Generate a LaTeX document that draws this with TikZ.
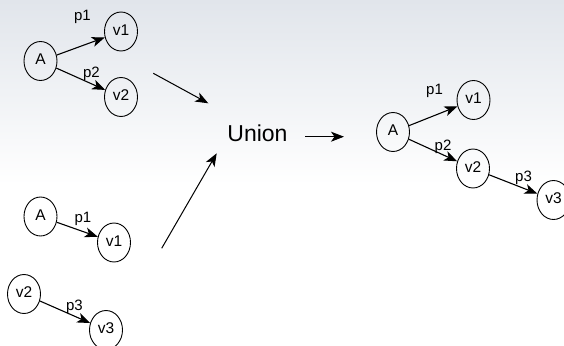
\documentclass[tikz,border=0pt]{standalone}
\usepackage{fontspec}
\setmainfont{Liberation Sans}
\usetikzlibrary{shapes.geometric,arrows.meta}

\definecolor{skytop}{RGB}{225,229,235}
\definecolor{skymid}{RGB}{238,242,247}

\tikzset{
  vertex/.style={ellipse, draw, line width=0.9pt, inner sep=0pt,
    minimum width=33pt, minimum height=39pt, text depth=3pt,
    font=\fontsize{15.5}{18}\selectfont},
  edge/.style={line width=1.1pt, -{Stealth[length=13pt,width=10pt,inset=3.5pt]}},
  elabel/.style={anchor=base, inner sep=0pt, font=\fontsize{15}{18}\selectfont},
  flow/.style={line width=1pt, -{Stealth[length=13pt,width=10pt,inset=3.5pt]}}
}

\begin{document}
\begin{tikzpicture}[x=1pt,y=-1pt]
  % soft backdrop fading to white
  \shade[top color=skytop, middle color=skymid, bottom color=white]
    (0,0) rectangle (564,185);
  \useasboundingbox (0,0) rectangle (564,345);

  % first input graph
  \node[vertex] (a1) at (40.5,61) {A};
  \node[vertex] (b1) at (121,31.5) {v1};
  \node[vertex] (c1) at (121,97) {v2};
  \draw[edge] (a1) -- (b1);
  \draw[edge] (a1) -- (c1);
  \node[elabel] (l11) at (82.5,21) {p1};
  \node[elabel] (l12) at (91.5,77) {p2};

  % second input graphs
  \node[vertex] (a2) at (40.5,216.5) {A};
  \node[vertex] (b2) at (114,242.5) {v1};
  \draw[edge] (a2) -- (b2);
  \node[elabel] (l21) at (83,222.5) {p1};

  \node[vertex] (c2) at (24,294) {v2};
  \node[vertex] (d2) at (106,330) {v3};
  \draw[edge] (c2) -- (d2);
  \node[elabel] (l23) at (74.5,310) {p3};

  % union operator
  \node[anchor=base, inner sep=0pt, font=\fontsize{23}{27}\selectfont]
    (union) at (257.5,141) {Union};
  \coordinate (in1s) at (153.3,73.3);
  \coordinate (in1e) at (208.3,103.3);
  \coordinate (in2s) at (161.7,248.3);
  \coordinate (in2e) at (216.7,153.3);
  \coordinate (outs) at (305,136.7);
  \coordinate (oute) at (344,136.7);
  \draw[flow] (in1s) -- (in1e);
  \draw[flow] (in2s) -- (in2e);
  \draw[flow] (outs) -- (oute);

  % resulting graph
  \node[vertex] (a3) at (393,132) {A};
  \node[vertex] (b3) at (473.5,100) {v1};
  \node[vertex] (c3) at (473,168.5) {v2};
  \node[vertex] (d3) at (553.5,200) {v3};
  \draw[edge] (a3) -- (b3);
  \draw[edge] (a3) -- (c3);
  \draw[edge] (c3) -- (d3);
  \node[elabel] (l31) at (434.5,94) {p1};
  \node[elabel] (l32) at (443,150) {p2};
  \node[elabel] (l33) at (523.5,181.7) {p3};
\end{tikzpicture}
\end{document}
